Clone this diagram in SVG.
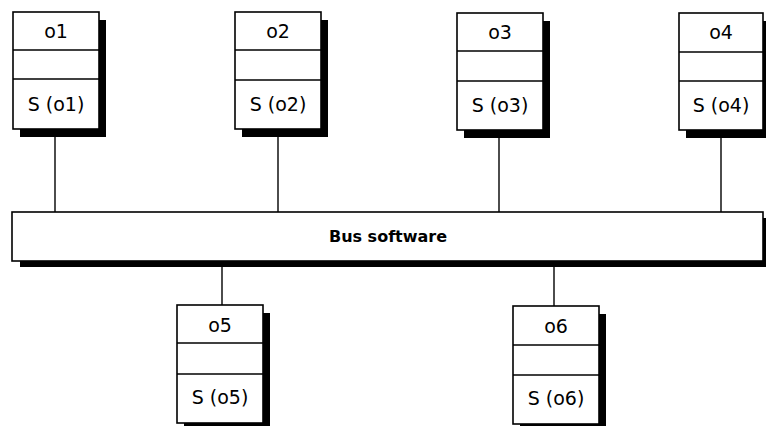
<svg xmlns="http://www.w3.org/2000/svg" width="766" height="426" viewBox="0 0 766 426">
<defs>
<style>
.bg{fill:#ffffff}
.sh{fill:#000000}
.box{fill:#ffffff;stroke:#000000;stroke-width:1.6}
.div{stroke:#000000;stroke-width:1.4}
.conn{stroke:#000000;stroke-width:1.4;fill:none}
.t{font-family:"DejaVu Sans","Liberation Sans",sans-serif;font-size:19px;fill:#000000;text-anchor:middle}
.tb{font-family:"DejaVu Sans","Liberation Sans",sans-serif;font-size:16px;font-weight:bold;fill:#000000;text-anchor:middle}
</style>
</defs>
<rect class="bg" x="0" y="0" width="766" height="426"/>
<g id="connectors">
<line class="conn" x1="55" y1="129" x2="55" y2="212"/>
<line class="conn" x1="278" y1="129" x2="278" y2="212"/>
<line class="conn" x1="499" y1="130" x2="499" y2="212"/>
<line class="conn" x1="721" y1="130" x2="721" y2="212"/>
<line class="conn" x1="222" y1="266" x2="222" y2="305" stroke-width="1"/>
<line class="conn" x1="554" y1="266" x2="554" y2="306"/>
</g>
<g id="bus">
<rect class="sh" x="20" y="218" width="749" height="49"/>
<rect class="box" x="12" y="212" width="751" height="49" stroke-width="2"/>
<text class="tb" x="388" y="242">Bus software</text>
</g>
<g id="o1" transform="translate(13,12)">
<rect class="sh" x="7" y="8" width="86" height="117"/>
<rect class="box" x="0" y="0" width="86" height="117"/>
<line class="div" x1="0" y1="38" x2="86" y2="38"/>
<line class="div" x1="0" y1="67" x2="86" y2="67"/>
<text class="t" x="43" y="26">o1</text>
<text class="t" x="43" y="99">S (o1)</text>
</g>
<g id="o2" transform="translate(235,12)">
<rect class="sh" x="7" y="8" width="86" height="117"/>
<rect class="box" x="0" y="0" width="86" height="117"/>
<line class="div" x1="0" y1="38" x2="86" y2="38"/>
<line class="div" x1="0" y1="68" x2="86" y2="68"/>
<text class="t" x="43" y="26">o2</text>
<text class="t" x="43" y="99">S (o2)</text>
</g>
<g id="o3" transform="translate(457,13)">
<rect class="sh" x="7" y="8" width="86" height="117"/>
<rect class="box" x="0" y="0" width="86" height="117"/>
<line class="div" x1="0" y1="38" x2="86" y2="38"/>
<line class="div" x1="0" y1="68" x2="86" y2="68"/>
<text class="t" x="43" y="26">o3</text>
<text class="t" x="43" y="99">S (o3)</text>
</g>
<g id="o4" transform="translate(679,13)">
<rect class="sh" x="7" y="8" width="84" height="117"/>
<rect class="box" x="0" y="0" width="84" height="117"/>
<line class="div" x1="0" y1="39" x2="84" y2="39"/>
<line class="div" x1="0" y1="68" x2="84" y2="68"/>
<text class="t" x="42" y="26">o4</text>
<text class="t" x="42" y="99">S (o4)</text>
</g>
<g id="o5" transform="translate(177,305)">
<rect class="sh" x="7" y="8" width="86" height="118"/>
<rect class="box" x="0" y="0" width="86" height="118"/>
<line class="div" x1="0" y1="38" x2="86" y2="38"/>
<line class="div" x1="0" y1="69" x2="86" y2="69"/>
<text class="t" x="43" y="27">o5</text>
<text class="t" x="43" y="99">S (o5)</text>
</g>
<g id="o6" transform="translate(513,306)">
<rect class="sh" x="7" y="8" width="86" height="118"/>
<rect class="box" x="0" y="0" width="86" height="118"/>
<line class="div" x1="0" y1="39" x2="86" y2="39"/>
<line class="div" x1="0" y1="69" x2="86" y2="69"/>
<text class="t" x="43" y="27">o6</text>
<text class="t" x="43" y="99">S (o6)</text>
</g>
</svg>
